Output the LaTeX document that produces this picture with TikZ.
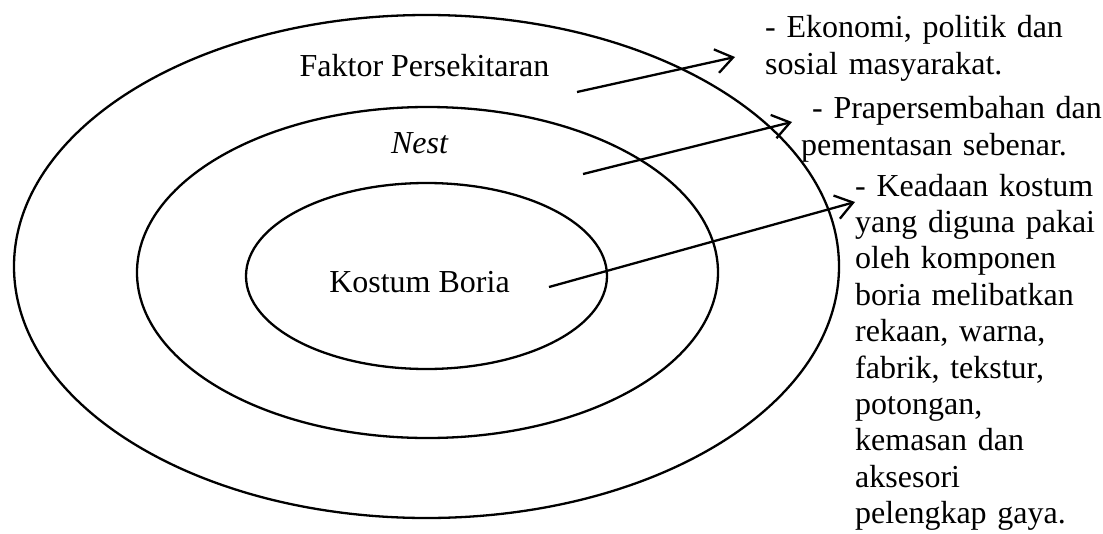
\documentclass[tikz,border=0pt]{standalone}
\usepackage{fontspec}
\setmainfont{Liberation Serif}
\usetikzlibrary{shapes.geometric,arrows.meta}
\begin{document}
\begin{tikzpicture}[x=1pt,y=-1pt,
  ring/.style={draw, ellipse, line width=2.3pt, inner sep=0pt},
  lbl/.style={font=\fontsize{32}{37}\selectfont, inner sep=0pt, anchor=base},
  note/.style={font=\fontsize{32}{37}\selectfont, inner sep=0pt, anchor=base west, text width=330pt, align=left},
  pointer/.style={line width=2.3pt, -{Straight Barb[length=17pt,width=24pt]}}]
\useasboundingbox (0,0) rectangle (1103,533);
\node[ring, minimum width=825pt, minimum height=503pt] (outer) at (426.5,266.5) {};
\node[ring, minimum width=581pt, minimum height=331pt] (middle) at (427.5,272.5) {};
\node[ring, minimum width=361pt, minimum height=186pt] (inner) at (426.5,276) {};
\node[lbl] (faktor) at (424.5,76) {Faktor Persekitaran};
\node[lbl] (nest) at (419.5,153) {\itshape Nest};
\node[lbl] (kostum) at (419.5,292) {Kostum Boria};
\node[note] (n1) at (765,37) {- Ekonomi, politik dan\\sosial masyarakat.};
\node[note] (n2) at (801,118) {\hspace*{11pt}- Prapersembahan dan\\pementasan sebenar.};
\node[note, font=\fontsize{32}{36.4}\selectfont] (n3) at (855,196) {- Keadaan kostum\\yang diguna pakai\\oleh komponen\\boria melibatkan\\rekaan, warna,\\fabrik, tekstur,\\potongan,\\kemasan dan\\aksesori\\pelengkap gaya.};
\coordinate (s1) at (577,92);
\coordinate (t1) at (735,57);
\coordinate (s2) at (583,174);
\coordinate (t2) at (792,122);
\coordinate (s3) at (549,287);
\coordinate (t3) at (855,202);
\draw[pointer] (s1) -- (t1);
\draw[pointer] (s2) -- (t2);
\draw[pointer] (s3) -- (t3);
\end{tikzpicture}
\end{document}
